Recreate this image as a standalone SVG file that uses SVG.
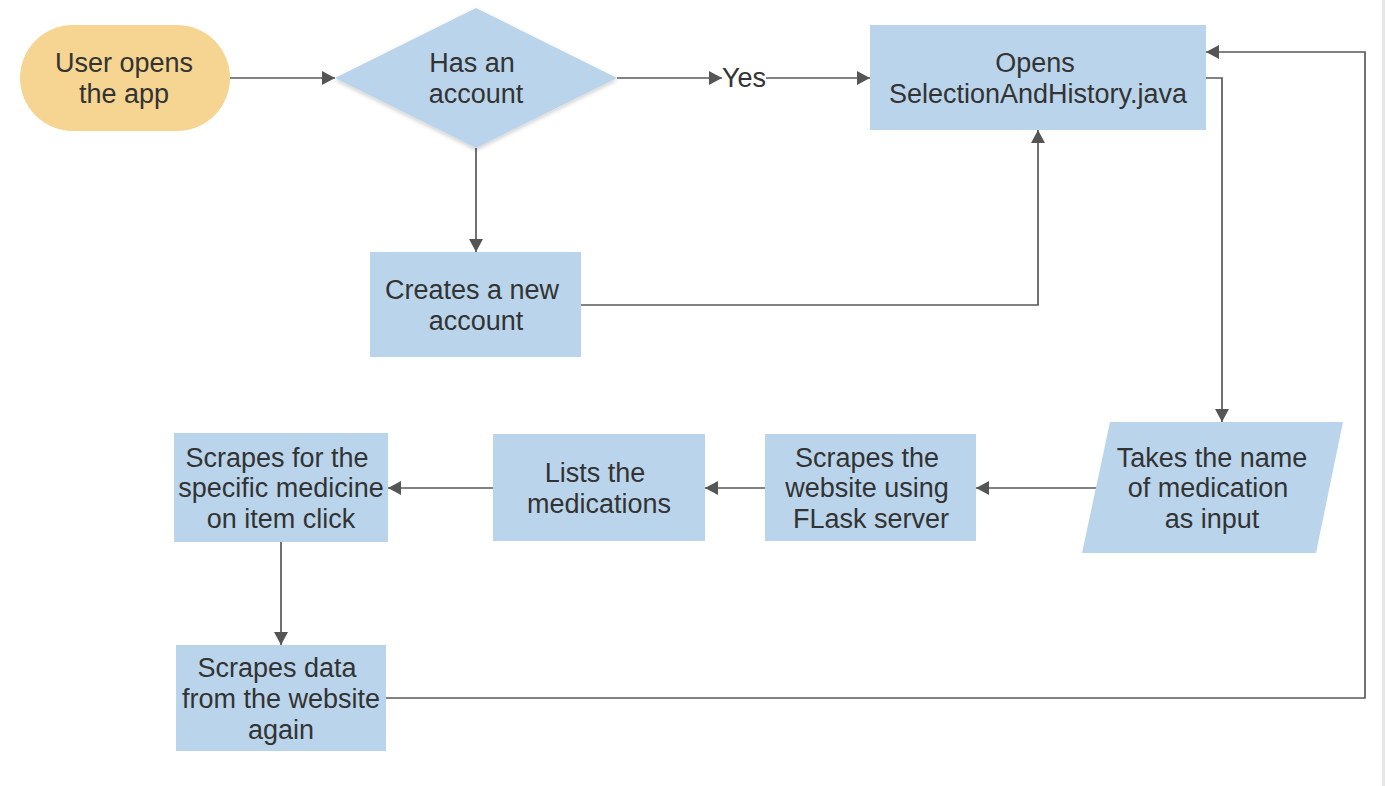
<svg xmlns="http://www.w3.org/2000/svg" width="1385" height="786" viewBox="0 0 1385 786">
<style>
.n{fill:#BAD5EB}
.t{font-family:"Liberation Sans",Arial,sans-serif;font-size:27px;fill:#333;text-anchor:middle}
.c{fill:none;stroke:#595959;stroke-width:1.7}
</style>
<defs>
<marker id="ah" viewBox="0 0 13 14" refX="13" refY="7" markerWidth="13" markerHeight="14" markerUnits="userSpaceOnUse" orient="auto">
<path d="M0,0 L13,7 L0,14 Z" fill="#555"/>
</marker>
<filter id="sh" x="-10%" y="-10%" width="120%" height="130%">
<feDropShadow dx="0" dy="2" stdDeviation="2" flood-color="#000" flood-opacity="0.2"/>
</filter>
</defs>
<rect width="1385" height="786" fill="#fff"/>
<rect x="1382" y="0" width="3" height="786" fill="#e6e6e6"/>
<g id="connectors">
<path class="c" d="M230,78 H335" marker-end="url(#ah)"/>
<path class="c" d="M617,78 H722" marker-end="url(#ah)"/>
<path class="c" d="M766,78 H870" marker-end="url(#ah)"/>
<text class="t" x="744" y="87">Yes</text>
<path class="c" d="M476,148 V252" marker-end="url(#ah)"/>
<path class="c" d="M581,305 H1038 V130" marker-end="url(#ah)"/>
<path class="c" d="M1206,78 H1222 V422" marker-end="url(#ah)"/>
<path class="c" d="M1097,488 H976" marker-end="url(#ah)"/>
<path class="c" d="M765,488 H705" marker-end="url(#ah)"/>
<path class="c" d="M493,488 H388" marker-end="url(#ah)"/>
<path class="c" d="M281,542 V645" marker-end="url(#ah)"/>
<path class="c" d="M386,698 H1365 V52 H1206" marker-end="url(#ah)"/>
</g>
<g id="start">
<rect x="20" y="25" width="210" height="106" rx="53" ry="53" fill="#F5D591"/>
<text class="t" x="124" y="72">User opens</text>
<text class="t" x="124" y="103">the app</text>
</g>
<g id="decision">
<polygon class="n" points="476,8 617,78 476,148 335,78" filter="url(#sh)"/>
<text class="t" x="472" y="72">Has an</text>
<text class="t" x="476" y="103">account</text>
</g>
<g id="opens">
<rect class="n" x="870" y="25" width="336" height="105"/>
<text class="t" x="1035" y="72">Opens</text>
<text class="t" x="1038" y="103">SelectionAndHistory.java</text>
</g>
<g id="create">
<rect class="n" x="370" y="252" width="211" height="105"/>
<text class="t" x="472" y="299">Creates a new</text>
<text class="t" x="476" y="330">account</text>
</g>
<g id="input">
<polygon class="n" points="1110,422 1343,422 1316,553 1082,553"/>
<text class="t" x="1212" y="467">Takes the name</text>
<text class="t" x="1208" y="497">of medication</text>
<text class="t" x="1212" y="528">as input</text>
</g>
<g id="scrape-site">
<rect class="n" x="765" y="434" width="211" height="107"/>
<text class="t" x="867" y="467">Scrapes the</text>
<text class="t" x="867" y="497">website using</text>
<text class="t" x="871" y="528">FLask server</text>
</g>
<g id="lists">
<rect class="n" x="493" y="434" width="212" height="107"/>
<text class="t" x="595" y="482">Lists the</text>
<text class="t" x="599" y="513">medications</text>
</g>
<g id="scrape-specific">
<rect class="n" x="174" y="433" width="214" height="109"/>
<text class="t" x="277" y="467">Scrapes for the</text>
<text class="t" x="281" y="497">specific medicine</text>
<text class="t" x="281" y="528">on item click</text>
</g>
<g id="scrape-again">
<rect class="n" x="176" y="645" width="210" height="106"/>
<text class="t" x="277" y="677">Scrapes data</text>
<text class="t" x="281" y="708">from the website</text>
<text class="t" x="281" y="739">again</text>
</g>
</svg>
